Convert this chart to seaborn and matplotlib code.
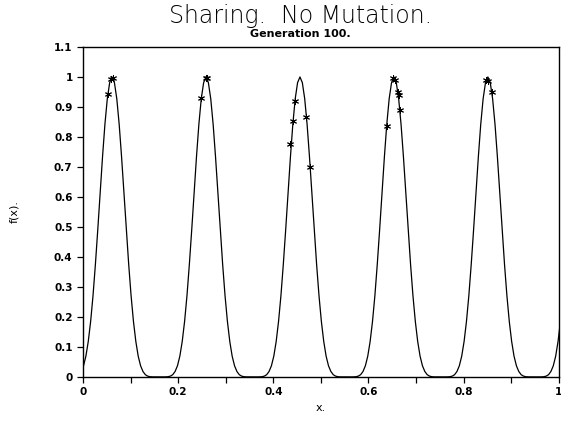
import numpy as np
import pandas as pd
import matplotlib
matplotlib.use('Agg')
import matplotlib.pyplot as plt
import seaborn as sns

# Curve: one hump profile (offset from peak, f value)
hump_offsets = [0.0, 0.005, 0.01, 0.015, 0.02, 0.025, 0.03, 0.035, 0.04, 0.045,
                0.05, 0.055, 0.06, 0.065, 0.07, 0.075, 0.08, 0.085, 0.09, 0.0988]
hump_values = [1.0, 0.981, 0.927, 0.842, 0.734, 0.614, 0.491, 0.375, 0.271, 0.185,
               0.118, 0.069, 0.037, 0.018, 0.0073, 0.0025, 0.0006, 0.0001, 0.0, 0.0]
# peak positions (last one is just past x=1)
peak_centers = [0.061, 0.2585, 0.456, 0.6535, 0.851, 1.0485]

# population at generation 100
pop_x = [0.053, 0.059, 0.064, 0.248, 0.258, 0.261,
         0.436, 0.4405, 0.445, 0.469, 0.477,
         0.639, 0.651, 0.655, 0.663, 0.665, 0.667,
         0.848, 0.852, 0.860]
pop_y = [0.942, 0.993, 0.996, 0.931, 0.996, 0.995,
         0.776, 0.853, 0.920, 0.865, 0.701,
         0.837, 0.995, 0.990, 0.950, 0.940, 0.890,
         0.990, 0.987, 0.949]

# build the curve from the hump profile
prof_d = [-d for d in hump_offsets[::-1]] + hump_offsets[1:]
prof_v = hump_values[::-1] + hump_values[1:]
cx, cy = [], []
for c in peak_centers:
    cx += [c + d for d in prof_d]
    cy += prof_v
curve = pd.DataFrame({'x': cx, 'f': cy}).sort_values('x')
pop = pd.DataFrame({'x': pop_x, 'f': pop_y})

sns.set_style('ticks')
plt.rcParams['font.family'] = ['DejaVu Sans']
plt.rcParams['text.color'] = 'black'

fig = plt.figure(figsize=(5.61, 4.23), dpi=100)
ax = fig.add_axes([0.148, 0.109, 0.848, 0.780])

sns.lineplot(x='x', y='f', data=curve, color='black', linewidth=0.9, sort=False,
             estimator=None, ax=ax)
sns.scatterplot(x='x', y='f', data=pop, marker=(6, 2, 0), s=20, color='black',
                linewidth=0.7, ax=ax)

ax.set_xlim(0, 1)
ax.set_ylim(0, 1.1)
ax.set_xticks(np.arange(0, 1.01, 0.2))
ax.set_xticklabels(['0', '0.2', '0.4', '0.6', '0.8', '1'])
ax.set_xticks(np.arange(0.1, 1.0, 0.2), minor=True)
yt = np.round(np.arange(0, 1.11, 0.1), 1)
ax.set_yticks(yt)
ax.set_yticklabels(['%g' % v for v in yt])
ax.tick_params(axis='both', which='both', direction='out', length=4, width=0.9,
               labelsize=7.5, colors='black')
for lab in ax.get_xticklabels() + ax.get_yticklabels():
    lab.set_fontweight('bold')
for s in ax.spines.values():
    s.set_visible(True)
    s.set_linewidth(1.0)
    s.set_color('black')

ax.set_xlabel('x.', fontsize=8, color='black')
ax.set_ylabel('f(x).', fontsize=8, labelpad=25, color='black')

fig.text(0.535, 0.945, 'Sharing.  No Mutation.', fontsize=17, fontweight='light',
         ha='center', va='baseline', color='black')
fig.text(0.535, 0.912, 'Generation 100.', fontsize=8, fontweight='bold',
         ha='center', va='baseline', color='black')

fig.savefig('out.png', dpi=100)
